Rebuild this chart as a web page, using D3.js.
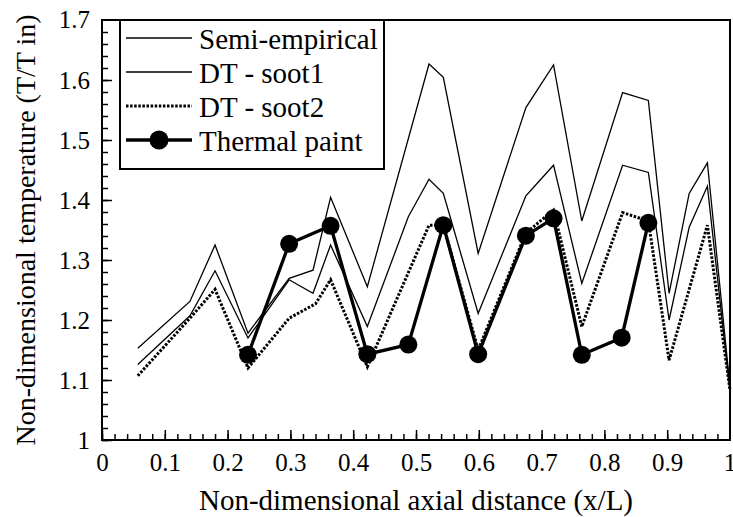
<!DOCTYPE html>
<html>
<head>
<meta charset="utf-8">
<script src="https://cdn.jsdelivr.net/npm/d3@7"></script>
<style>
  body { margin: 0; background: #fff; }
  svg text { font-family: "Liberation Serif", "Times New Roman", Tinos, "Noto Serif", "DejaVu Serif", "FreeSerif", "Nimbus Roman", Times, serif !important; }
</style>
</head>
<body>
<div id="chart"></div>
<script>
const width = 733;
const height = 517;
const margin = { top: 20, right: 3, bottom: 77, left: 102 };

// tick values / labels
const xTicks = [0, 0.1, 0.2, 0.3, 0.4, 0.5, 0.6, 0.7, 0.8, 0.9, 1];
const xTickLabels = ["0", "0.1", "0.2", "0.3", "0.4", "0.5", "0.6", "0.7", "0.8", "0.9", "1"];
const yTicks = [1, 1.1, 1.2, 1.3, 1.4, 1.5, 1.6, 1.7];
const yTickLabels = ["1", "1.1", "1.2", "1.3", "1.4", "1.5", "1.6", "1.7"];

// series: [x/L, T/Tin]
const semiEmpirical = [
  [0.057, 1.153], [0.140, 1.231], [0.180, 1.325], [0.2325, 1.178], [0.298, 1.2695],
  [0.336, 1.283], [0.364, 1.4045], [0.4225, 1.2555], [0.5207, 1.6267], [0.5435, 1.6045],
  [0.599, 1.311], [0.675, 1.554], [0.719, 1.625], [0.764, 1.365], [0.829, 1.579],
  [0.870, 1.566], [0.903, 1.2445], [0.935, 1.411], [0.964, 1.462], [1.0, 1.089],
];
const dtSoot1 = [
  [0.057, 1.126], [0.140, 1.207], [0.180, 1.282], [0.2325, 1.17], [0.298, 1.267],
  [0.336, 1.2445], [0.364, 1.325], [0.4225, 1.189], [0.4878, 1.372], [0.5207, 1.4345],
  [0.5435, 1.411], [0.599, 1.211], [0.675, 1.407], [0.719, 1.458], [0.764, 1.261],
  [0.829, 1.458], [0.870, 1.446], [0.903, 1.20], [0.935, 1.3545], [0.964, 1.423], [1.0, 1.08],
];
const dtSoot2 = [
  [0.057, 1.107], [0.140, 1.203], [0.180, 1.251], [0.2325, 1.12], [0.298, 1.203],
  [0.340, 1.227], [0.364, 1.267], [0.4225, 1.122], [0.5207, 1.358], [0.5435, 1.358],
  [0.599, 1.15], [0.675, 1.345], [0.719, 1.383], [0.764, 1.189], [0.829, 1.379],
  [0.870, 1.365], [0.903, 1.133], [0.964, 1.358], [1.0, 1.083],
];
const thermalPaint = [
  [0.2325, 1.142], [0.298, 1.327], [0.364, 1.357], [0.4225, 1.143], [0.4878, 1.159],
  [0.5435, 1.358], [0.599, 1.143], [0.675, 1.3405], [0.719, 1.3695], [0.764, 1.142],
  [0.8275, 1.1705], [0.870, 1.362],
];

const legendNames = ["Semi-empirical", "DT - soot1", "DT - soot2", "Thermal paint"];

const svg = d3.select("#chart")
  .append("svg")
  .attr("width", width)
  .attr("height", height);

const x = d3.scaleLinear().domain([0, 1]).range([margin.left, width - margin.right]);
const y = d3.scaleLinear().domain([1, 1.7]).range([height - margin.bottom, margin.top]);

// minor ticks
svg.append("g")
  .attr("transform", `translate(0,${y(1)})`)
  .call(d3.axisBottom(x).tickValues(d3.range(0, 50).map((i) => i * 0.02)).tickSize(-6).tickFormat(""))
  .call((g) => g.select(".domain").remove());
svg.append("g")
  .attr("transform", `translate(${x(0)},0)`)
  .call(d3.axisLeft(y).tickValues(d3.range(0, 35).map((i) => 1 + i * 0.02)).tickSize(-6).tickFormat(""))
  .call((g) => g.select(".domain").remove());

// major ticks + labels
const xAxis = svg.append("g")
  .attr("transform", `translate(0,${y(1)})`)
  .call(d3.axisBottom(x).tickValues(xTicks.slice(0, -1)).tickSize(-10).tickPadding(13)
    .tickFormat((d, i) => xTickLabels[i]))
  .call((g) => g.select(".domain").remove());
// last label "1" sits on the frame corner, no tick mark
xAxis.append("text")
  .attr("x", x(1)).attr("y", 13).attr("dy", "0.71em")
  .attr("fill", "#000").attr("text-anchor", "middle")
  .text(xTickLabels[xTickLabels.length - 1]);
xAxis.selectAll("text").attr("font-size", 25);

const yAxis = svg.append("g")
  .attr("transform", `translate(${x(0)},0)`)
  .call(d3.axisLeft(y).tickValues(yTicks.slice(0, -1)).tickSize(-10).tickPadding(12)
    .tickFormat((d, i) => yTickLabels[i]))
  .call((g) => g.select(".domain").remove());
yAxis.append("text")
  .attr("x", -12).attr("y", y(1.7)).attr("dy", "0.32em")
  .attr("fill", "#000").attr("text-anchor", "end")
  .text(yTickLabels[yTickLabels.length - 1]);
yAxis.selectAll("text").attr("font-size", 25);
svg.selectAll(".tick line").attr("stroke-width", 1.5);

// frame
svg.append("rect")
  .attr("x", x(0)).attr("y", y(1.7))
  .attr("width", x(1) - x(0)).attr("height", y(1) - y(1.7))
  .attr("fill", "none").attr("stroke", "#000").attr("stroke-width", 2);

// series
const line = d3.line().x((d) => x(d[0])).y((d) => y(d[1]));

svg.append("path").datum(semiEmpirical)
  .attr("d", line).attr("fill", "none").attr("stroke", "#000").attr("stroke-width", 1.3);
svg.append("path").datum(dtSoot1)
  .attr("d", line).attr("fill", "none").attr("stroke", "#000").attr("stroke-width", 1.3);
svg.append("path").datum(dtSoot2)
  .attr("d", line).attr("fill", "none").attr("stroke", "#000").attr("stroke-width", 3)
  .attr("stroke-dasharray", "2.5,1.6");
svg.append("path").datum(thermalPaint)
  .attr("d", line).attr("fill", "none").attr("stroke", "#000").attr("stroke-width", 3.3);
svg.append("g")
  .selectAll("circle")
  .data(thermalPaint)
  .join("circle")
  .attr("cx", (d) => x(d[0]))
  .attr("cy", (d) => y(d[1]))
  .attr("r", 9)
  .attr("fill", "#000");

// legend
const legend = svg.append("g").attr("class", "legend");
legend.append("rect")
  .attr("x", 120).attr("y", y(1.7))
  .attr("width", 264).attr("height", 149)
  .attr("fill", "#fff").attr("stroke", "#000").attr("stroke-width", 2);

const legendStyles = [
  { w: 1.3, dash: null, dot: false },
  { w: 1.3, dash: null, dot: false },
  { w: 3, dash: "2.5,1.6", dot: false },
  { w: 3.3, dash: null, dot: true },
];

const rows = legend.selectAll("g.row")
  .data(legendNames)
  .join("g")
  .attr("class", "row")
  .attr("transform", (d, i) => `translate(0,${38 + i * 34})`);

rows.append("line")
  .attr("x1", 126).attr("x2", 192)
  .attr("stroke", "#000")
  .attr("stroke-width", (d, i) => legendStyles[i].w)
  .attr("stroke-dasharray", (d, i) => legendStyles[i].dash);
rows.filter((d, i) => legendStyles[i].dot)
  .append("circle")
  .attr("cx", 159).attr("cy", 0).attr("r", 9.5).attr("fill", "#000");
rows.append("text")
  .attr("x", 199).attr("y", 11)
  .attr("font-size", 29)
  .text((d) => d);

// axis titles
svg.append("text")
  .attr("x", (x(0) + x(1)) / 2)
  .attr("y", 510)
  .attr("text-anchor", "middle")
  .attr("font-size", 29)
  .text("Non-dimensional axial distance (x/L)");

svg.append("text")
  .attr("transform", `translate(35,${(y(1) + y(1.7)) / 2}) rotate(-90)`)
  .attr("text-anchor", "middle")
  .attr("font-size", 28)
  .text("Non-dimensional temperature (T/T in)");
</script>
</body>
</html>
